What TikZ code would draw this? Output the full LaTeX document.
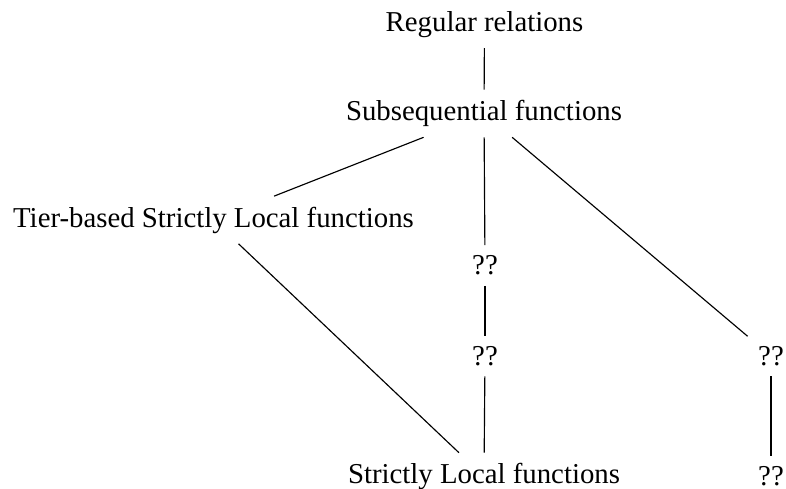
\documentclass[tikz,border=0pt]{standalone}
\usepackage{fontspec}
\setmainfont{Liberation Serif}
\begin{document}
\begin{tikzpicture}[x=1pt,y=-1pt,
  lbl/.style={inner sep=10pt, outer sep=0.6pt, font=\fontsize{28.8}{34}\selectfont},
  conn/.style={line width=1.15pt}]
\useasboundingbox (0,0) rectangle (786,488);
\node[lbl] (reg) at (484.5,24.3) {Regular relations};
\node[lbl] (sub) at (484,113.5) {Subsequential functions};
\node[lbl] (tsl) at (213.5,220) {Tier-based Strictly Local functions};
\node[lbl] (qa) at (485,265.5) {??};
\node[lbl] (qb) at (485,356) {??};
\node[lbl] (qc) at (771,356) {??};
\node[lbl] (sl) at (484,476.5) {Strictly Local functions};
\node[lbl] (qd) at (771,476.5) {??};
\draw[conn] (reg) -- (sub);
\draw[conn] (sub) -- (tsl);
\draw[conn] (sub) -- (qa);
\draw[conn] (sub) -- (qc);
\draw[conn] (qa) -- (qb);
\draw[conn] (qb) -- (sl);
\draw[conn] (tsl) -- (sl);
\draw[conn] (qc) -- (qd);
\end{tikzpicture}
\end{document}
